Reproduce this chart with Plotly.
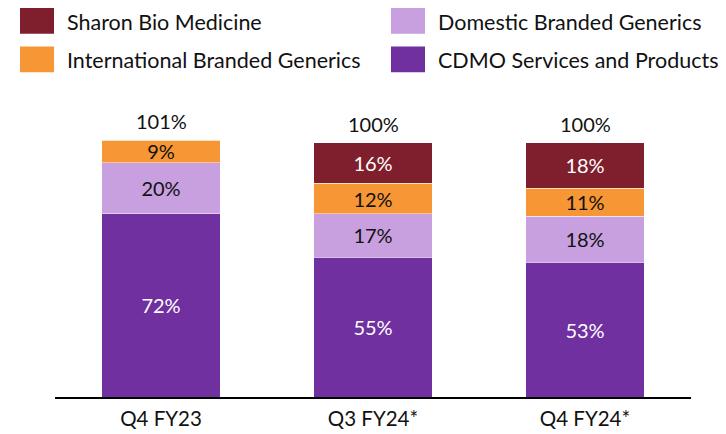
import plotly.graph_objects as go

categories = ["Q4 FY23", "Q3 FY24*", "Q4 FY24*"]
cdmo = [72, 55, 53]
domestic = [20, 17, 18]
international = [9, 12, 11]
sharon = [0, 16, 18]
totals = [101, 100, 100]

series_names = ["CDMO Services and Products", "Domestic Branded Generics",
                "International Branded Generics", "Sharon Bio Medicine"]
series_values = [cdmo, domestic, international, sharon]
colors = ["#7030A0", "#C8A0E0", "#F79634", "#7F1F2E"]
text_colors = ["white", "#111111", "#111111", "white"]

FONT = "Lato"
W, H = 726, 434
OFF = 8  # page body margin offset
L, R, T, B = 47, 43, 92, 42
PW, PH = W - L - R, H - T - B

def px(x):
    return (x - OFF - L) / PW

def py(y):
    return (H - B - (y - OFF)) / PH

fig = go.Figure()
for name, vals, col, tcol in zip(series_names, series_values, colors, text_colors):
    fig.add_trace(go.Bar(
        x=categories, y=vals, name=name,
        marker=dict(color=col, line=dict(color="rgba(255,255,255,0.45)", width=1)),
        text=[f"{v}%" if v > 0 else "" for v in vals],
        textposition="inside", insidetextanchor="middle", textangle=0,
        constraintext="none",
        textfont=dict(family=FONT, size=20, color=tcol),
        showlegend=False, hoverinfo="skip",
    ))

annotations = []
for c, t in zip(categories, totals):
    annotations.append(dict(x=c, y=t, xref="x", yref="y", text=f"{t}%",
                            showarrow=False, yanchor="bottom", yshift=5,
                            font=dict(family=FONT, size=20, color="#111111")))

# Legend drawn manually (2 columns x 2 rows), page pixel positions
legend_items = [("Sharon Bio Medicine", colors[3], 20, 7),
                ("Domestic Branded Generics", colors[1], 391, 7),
                ("International Branded Generics", colors[2], 20, 46),
                ("CDMO Services and Products", colors[0], 391, 46)]
shapes = []
for name, col, x0, y0 in legend_items:
    shapes.append(dict(type="rect", xref="paper", yref="paper",
                       x0=px(x0), x1=px(x0 + 34), y0=py(y0 + 26), y1=py(y0),
                       fillcolor=col, line=dict(width=0)))
    annotations.append(dict(x=px(x0 + 45), y=py(y0 + 14), xref="paper", yref="paper",
                            text=name, showarrow=False, xanchor="left", yanchor="middle",
                            font=dict(family=FONT, size=21.5, color="#111111")))

fig.update_layout(
    barmode="stack", bargap=0.443,
    width=W, height=H,
    margin=dict(l=L, r=R, t=T, b=B, pad=0),
    paper_bgcolor="white", plot_bgcolor="white",
    font=dict(family=FONT, size=20, color="#111111"),
    annotations=annotations, shapes=shapes,
    xaxis=dict(showline=True, linecolor="black", linewidth=2, ticks="",
               ticklabelstandoff=2,
               tickfont=dict(family=FONT, size=20.5, color="#111111"), showgrid=False),
    yaxis=dict(range=[0, PH / 2.57], visible=False, showgrid=False, zeroline=False),
)

fig.write_html("out.html")
